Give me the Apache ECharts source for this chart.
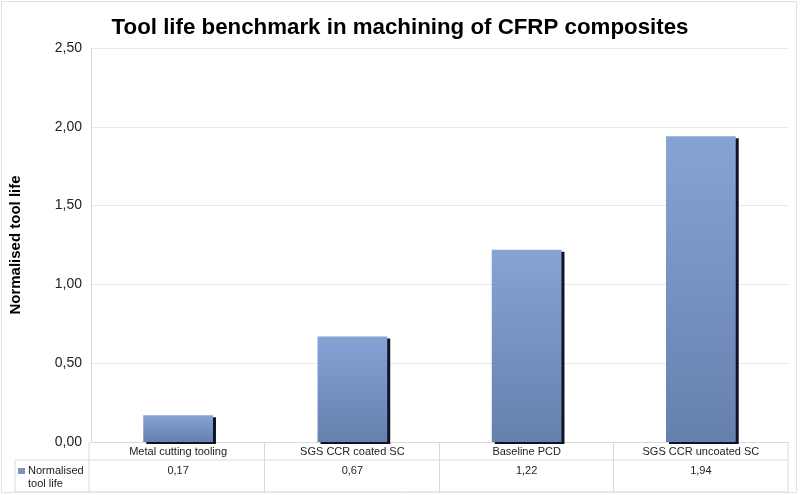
<!DOCTYPE html>
<html>
<head>
<meta charset="utf-8">
<script src="https://cdn.jsdelivr.net/npm/echarts@6/dist/echarts.min.js"></script>
<style>
  html, body { margin: 0; padding: 0; background: #fff; }
  #main { width: 800px; height: 495px; }
</style>
</head>
<body>
<div id="main"></div>
<script>
var categories = ["Metal cutting tooling", "SGS CCR coated SC", "Baseline PCD", "SGS CCR uncoated SC"];
var toolLife = [0.17, 0.67, 1.22, 1.94];
var seriesName = "Normalised tool life";

function fmt(v) {
  return v.toFixed(2).replace(".", ",");
}

var myChart = echarts.init(document.getElementById("main"));
var font = "Liberation Sans, Arial, sans-serif";

var option = {
  animation: false,
  title: {
    text: "Tool life benchmark in machining of CFRP composites",
    left: "center",
    top: 12,
    textStyle: { fontFamily: font, fontSize: 22.3, fontWeight: "bold", color: "#000" }
  },
  grid: { left: 89, right: 12, top: 48, bottom: 53 },
  xAxis: [
    {
      type: "category",
      data: categories,
      axisLine: { show: true, lineStyle: { color: "#d9d9d9" } },
      axisTick: { show: false },
      axisLabel: { fontFamily: font, fontSize: 11, color: "#222", margin: 4 }
    },
    {
      type: "category",
      position: "bottom",
      offset: 19,
      data: toolLife.map(fmt),
      axisLine: { show: false },
      axisTick: { show: false },
      axisLabel: { fontFamily: font, fontSize: 11, color: "#222", margin: 4 }
    }
  ],
  yAxis: {
    type: "value",
    min: 0,
    max: 2.5,
    interval: 0.5,
    name: "Normalised tool life",
    nameLocation: "middle",
    nameGap: 68,
    nameTextStyle: { fontFamily: font, fontSize: 15, fontWeight: "bold", color: "#000" },
    axisLine: { show: true, lineStyle: { color: "#d9d9d9" } },
    axisTick: { show: false },
    axisLabel: { fontFamily: font, fontSize: 14, color: "#222", margin: 9, formatter: fmt },
    splitLine: { lineStyle: { color: "#e8e8e8" } }
  },
  series: [
    {
      name: seriesName,
      type: "bar",
      data: toolLife,
      barWidth: "40%",
      itemStyle: {
        color: new echarts.graphic.LinearGradient(0, 0, 0, 1, [
          { offset: 0, color: "#86a3d6" },
          { offset: 1, color: "#6680ae" }
        ]),
        shadowColor: "#0e1428",
        shadowOffsetX: 3,
        shadowOffsetY: 2,
        shadowBlur: 0
      }
    }
  ]
};
myChart.setOption(option);

// data table grid under the plot, placed from the axis scale
var x0 = myChart.convertToPixel({ gridIndex: 0 }, [0, 0]);
var gridLeft = 89, gridRight = 800 - 12;
var yTop = x0[1];
var yMid = yTop + 18;
var yBot = yTop + 50;
var tableLeft = 15;
var colW = (gridRight - gridLeft) / categories.length;
var lineStyle = { stroke: "#d9d9d9", lineWidth: 1 };
var els = [
  { type: "line", shape: { x1: tableLeft, y1: yMid, x2: gridRight, y2: yMid }, style: lineStyle },
  { type: "line", shape: { x1: tableLeft, y1: yBot, x2: gridRight, y2: yBot }, style: lineStyle },
  { type: "line", shape: { x1: tableLeft, y1: yMid, x2: tableLeft, y2: yBot }, style: lineStyle },
  { type: "line", shape: { x1: gridRight, y1: yTop, x2: gridRight, y2: yBot }, style: lineStyle },
  { type: "line", shape: { x1: gridLeft, y1: yTop, x2: gridLeft, y2: yBot }, style: lineStyle },
  { type: "rect", shape: { x: 18, y: yMid + 8, width: 7, height: 6 }, style: { fill: "#7f93bf" } },
  {
    type: "text",
    style: {
      x: 28, y: yMid + 4,
      text: "Normalised\ntool life",
      font: "11px " + font,
      fill: "#222",
      lineHeight: 13
    }
  },
  { type: "rect", shape: { x: 1.5, y: 1.5, width: 795, height: 491 }, style: { fill: "none", stroke: "#e2e2e2", lineWidth: 1 } }
];
for (var i = 1; i < categories.length; i++) {
  var xx = Math.round(gridLeft + colW * i) + 0.5;
  els.push({ type: "line", shape: { x1: xx, y1: yTop, x2: xx, y2: yBot }, style: lineStyle });
}
els.forEach(function (e) { e.z = 100; });
myChart.setOption({ graphic: els });
</script>
</body>
</html>
